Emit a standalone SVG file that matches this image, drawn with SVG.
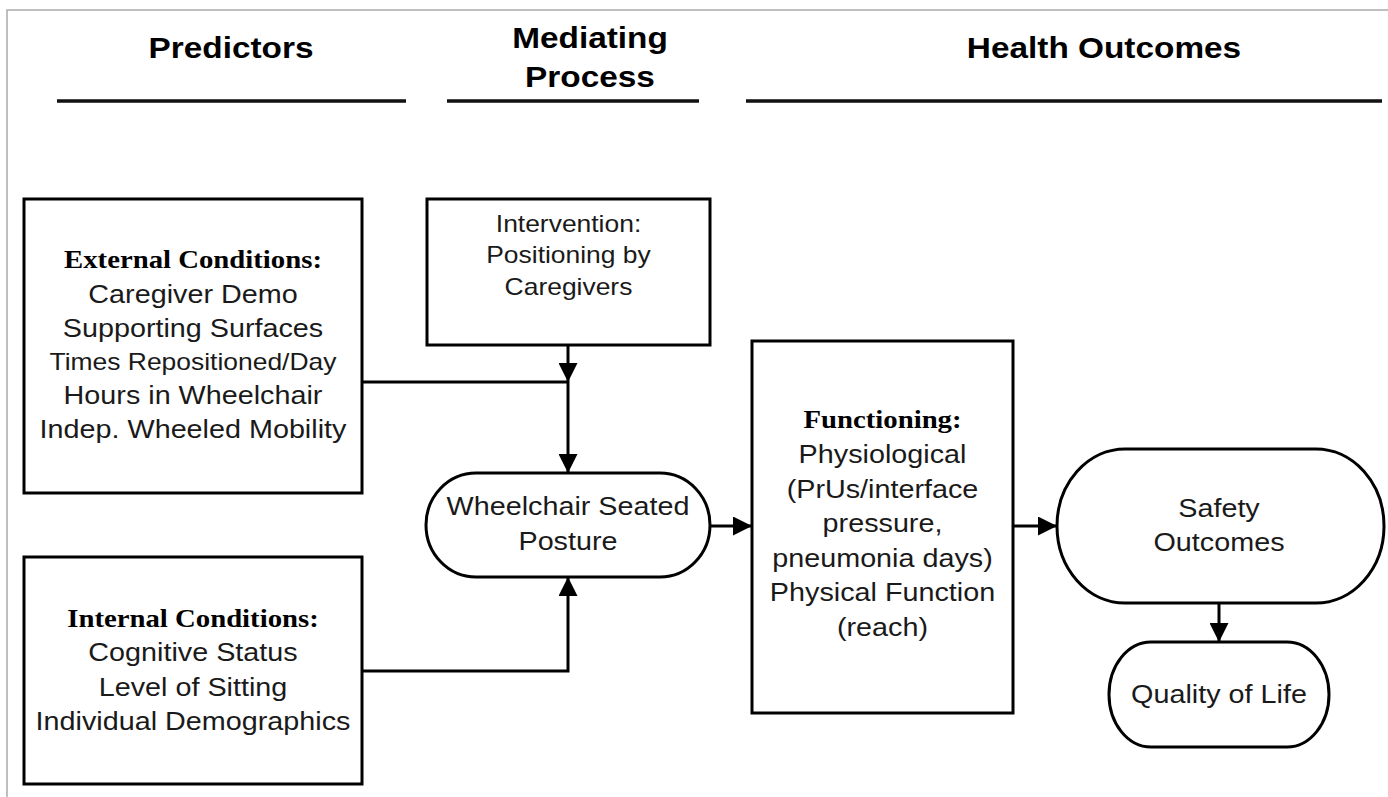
<svg xmlns="http://www.w3.org/2000/svg" width="1388" height="797" viewBox="0 0 1388 797">
<style>
.box{fill:#fff;stroke:#000;stroke-width:3}
.hdr{font-family:"Liberation Sans",Arial,sans-serif;font-weight:bold;font-size:29px;fill:#000;text-anchor:middle}
.t{font-family:"Liberation Sans",Arial,sans-serif;font-size:25px;fill:#1a1a1a;text-anchor:middle}
.b{font-family:"Liberation Serif","Times New Roman",serif;font-weight:bold;font-size:25px;fill:#000}
.s{font-size:23px}
.rule{stroke:#111;stroke-width:3.5;fill:none}
.c{stroke:#000;stroke-width:3;fill:none}
</style>
<defs>
<marker id="ah" markerUnits="userSpaceOnUse" viewBox="0 0 19 19" refX="19" refY="9.5" markerWidth="19" markerHeight="19" orient="auto">
<path d="M0,0 L19,9.5 L0,19 z" fill="#000"/>
</marker>
</defs>
<rect width="1388" height="797" fill="#fff"/>
<path d="M7,797 V10 H1388" fill="none" stroke="#aaa" stroke-width="1.5"/>

<g id="headers">
<text class="hdr" transform="translate(231 0) scale(1.15 1)"><tspan x="0" y="58">Predictors</tspan></text>
<text class="hdr" transform="translate(590 0) scale(1.15 1)"><tspan x="0" y="48">Mediating</tspan><tspan x="0" y="87">Process</tspan></text>
<text class="hdr" transform="translate(1104 0) scale(1.15 1)"><tspan x="0" y="58">Health Outcomes</tspan></text>
<path class="rule" d="M57,101 H406 M447,101 H699 M746,101 H1382"/>
</g>

<g id="external">
<rect class="box" x="24" y="199" width="338" height="294"/>
<text class="t" transform="translate(193 0) scale(1.15 1)"><tspan class="b" x="0" y="268">External Conditions:</tspan><tspan x="0" y="303">Caregiver Demo</tspan><tspan x="0" y="337">Supporting Surfaces</tspan><tspan class="s" x="0" y="370">Times Repositioned/Day</tspan><tspan x="0" y="404">Hours in Wheelchair</tspan><tspan x="0" y="438">Indep. Wheeled Mobility</tspan></text>
</g>

<g id="intervention">
<rect class="box" x="427" y="199" width="283" height="146"/>
<text class="t s" transform="translate(568.5 0) scale(1.15 1)"><tspan x="0" y="232">Intervention:</tspan><tspan x="0" y="263">Positioning by</tspan><tspan x="0" y="295">Caregivers</tspan></text>
</g>

<g id="internal">
<rect class="box" x="24" y="557" width="338" height="227"/>
<text class="t" transform="translate(193 0) scale(1.15 1)"><tspan class="b" x="0" y="627">Internal Conditions:</tspan><tspan x="0" y="661">Cognitive Status</tspan><tspan x="0" y="696">Level of Sitting</tspan><tspan x="0" y="730">Individual Demographics</tspan></text>
</g>

<g id="posture">
<path class="box" d="M476,473 H660 A50,52 0 0 1 660,577 H476 A50,52 0 0 1 476,473 Z"/>
<text class="t" transform="translate(568 0) scale(1.15 1)"><tspan x="0" y="515">Wheelchair Seated</tspan><tspan x="0" y="550">Posture</tspan></text>
</g>

<g id="functioning">
<rect class="box" x="752" y="341" width="261" height="372"/>
<text class="t" transform="translate(882.5 0) scale(1.15 1)"><tspan class="b" x="0" y="428">Functioning:</tspan><tspan x="0" y="463">Physiological</tspan><tspan x="0" y="498">(PrUs/interface</tspan><tspan x="0" y="532">pressure,</tspan><tspan x="0" y="567">pneumonia days)</tspan><tspan x="0" y="601">Physical Function</tspan><tspan x="0" y="636">(reach)</tspan></text>
</g>

<g id="safety">
<path class="box" d="M1125,449 H1316 A68,77 0 0 1 1316,603 H1125 A68,77 0 0 1 1125,449 Z"/>
<text class="t" transform="translate(1219 0) scale(1.15 1)"><tspan x="0" y="517">Safety</tspan><tspan x="0" y="551">Outcomes</tspan></text>
</g>

<g id="qol">
<path class="box" d="M1151,642 H1287 A42,52.5 0 0 1 1287,747 H1151 A42,52.5 0 0 1 1151,642 Z"/>
<text class="t" transform="translate(1219 0) scale(1.15 1)"><tspan x="0" y="703">Quality of Life</tspan></text>
</g>

<g id="connectors">
<path class="c" d="M362,382 H568"/>
<path class="c" d="M568,345 V382" marker-end="url(#ah)"/>
<path class="c" d="M568,382 V473" marker-end="url(#ah)"/>
<path class="c" d="M362,671 H568 V577" marker-end="url(#ah)"/>
<path class="c" d="M710,526 H752" marker-end="url(#ah)"/>
<path class="c" d="M1013,526 H1057" marker-end="url(#ah)"/>
<path class="c" d="M1219,603 V642" marker-end="url(#ah)"/>
</g>
</svg>
